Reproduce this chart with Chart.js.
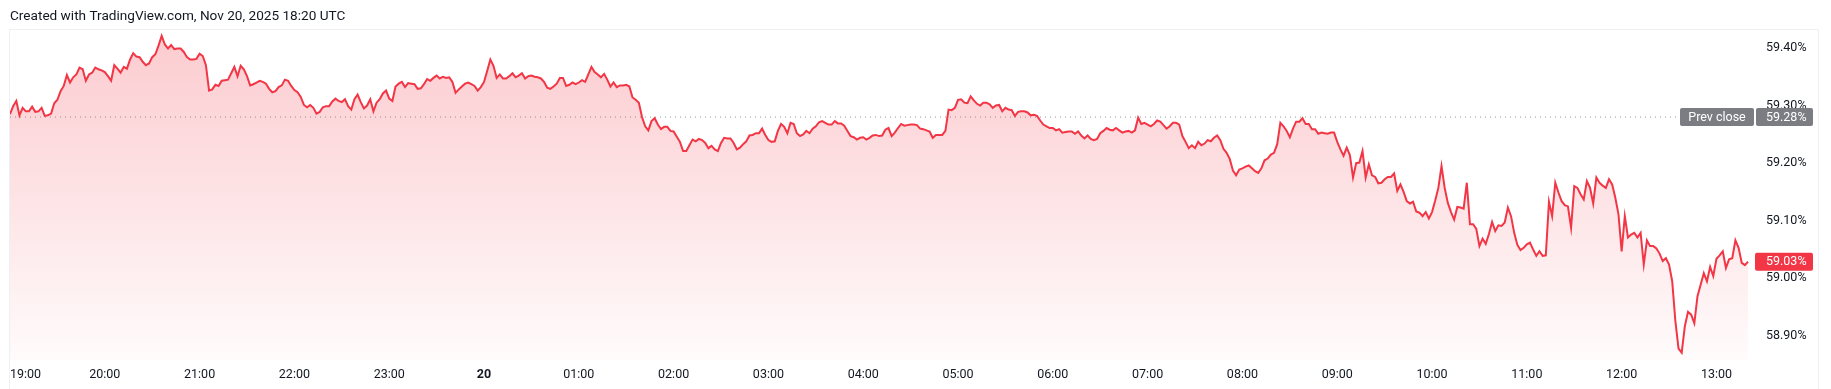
<!DOCTYPE html>
<html>
<head>
<meta charset="utf-8">
<script src="https://cdn.jsdelivr.net/npm/chart.js@4.4.0/dist/chart.umd.min.js"></script>
<style>
html,body{margin:0;padding:0;background:#ffffff;overflow:hidden;}
canvas{display:block;}
</style>
</head>
<body>
<canvas id="c" width="1831" height="389"></canvas>
<script>
// ---- data ----
const titleText = 'Created with TradingView.com, Nov 20, 2025 18:20 UTC';
const startTimeLabel = '19:00';   // first sample
const stepMinutes = 2;            // sampling interval of yieldValues
const yieldValues = [
59.285,59.299,59.308,59.283,59.296,59.290,59.290,59.298,59.289,59.290,
59.296,59.282,59.283,59.286,59.304,59.310,59.325,59.334,59.353,59.340,
59.349,59.354,59.366,59.363,59.343,59.354,59.357,59.366,59.363,59.361,
59.358,59.351,59.343,59.370,59.364,59.357,59.367,59.364,59.380,59.391,
59.385,59.384,59.376,59.370,59.373,59.384,59.389,59.404,59.421,59.406,
59.399,59.405,59.398,59.399,59.399,59.393,59.384,59.380,59.380,59.381,
59.390,59.386,59.370,59.326,59.328,59.336,59.334,59.343,59.344,59.345,
59.356,59.367,59.351,59.369,59.363,59.351,59.335,59.337,59.340,59.343,
59.341,59.338,59.329,59.323,59.325,59.332,59.335,59.345,59.343,59.334,
59.327,59.323,59.315,59.301,59.297,59.301,59.296,59.286,59.289,59.297,
59.299,59.299,59.307,59.312,59.308,59.306,59.311,59.299,59.293,59.311,
59.319,59.306,59.295,59.300,59.311,59.290,59.305,59.311,59.321,59.326,
59.312,59.308,59.333,59.338,59.341,59.332,59.339,59.338,59.337,59.329,
59.330,59.337,59.346,59.343,59.348,59.352,59.347,59.350,59.348,59.349,
59.341,59.322,59.328,59.333,59.338,59.340,59.337,59.334,59.326,59.332,
59.341,59.360,59.380,59.369,59.348,59.354,59.347,59.347,59.351,59.356,
59.349,59.352,59.356,59.347,59.351,59.352,59.350,59.349,59.347,59.341,
59.331,59.329,59.333,59.338,59.348,59.348,59.334,59.336,59.340,59.337,
59.340,59.344,59.341,59.354,59.367,59.358,59.354,59.349,59.355,59.345,
59.333,59.340,59.332,59.335,59.335,59.336,59.333,59.314,59.310,59.305,
59.280,59.264,59.257,59.273,59.278,59.267,59.259,59.263,59.263,59.256,
59.255,59.246,59.237,59.221,59.221,59.231,59.241,59.238,59.242,59.240,
59.235,59.226,59.230,59.224,59.221,59.235,59.244,59.243,59.243,59.235,
59.224,59.227,59.233,59.238,59.248,59.249,59.252,59.252,59.260,59.249,
59.240,59.237,59.238,59.256,59.268,59.263,59.252,59.270,59.268,59.252,
59.247,59.250,59.256,59.252,59.260,59.264,59.271,59.273,59.270,59.267,
59.267,59.273,59.269,59.269,59.265,59.256,59.247,59.245,59.241,59.244,
59.245,59.241,59.244,59.248,59.249,59.247,59.248,59.258,59.261,59.247,
59.253,59.261,59.268,59.265,59.266,59.267,59.267,59.266,59.260,59.259,
59.257,59.255,59.244,59.249,59.249,59.249,59.256,59.293,59.292,59.296,
59.310,59.311,59.305,59.304,59.316,59.309,59.303,59.300,59.305,59.305,
59.302,59.296,59.300,59.301,59.290,59.296,59.293,59.292,59.282,59.289,
59.290,59.290,59.288,59.283,59.284,59.282,59.274,59.267,59.264,59.261,
59.261,59.257,59.259,59.253,59.254,59.255,59.255,59.251,59.255,59.248,
59.243,59.248,59.242,59.240,59.242,59.252,59.256,59.261,59.258,59.257,
59.261,59.257,59.253,59.255,59.256,59.253,59.257,59.279,59.268,59.270,
59.267,59.264,59.268,59.274,59.272,59.266,59.260,59.264,59.270,59.270,
59.267,59.247,59.237,59.226,59.231,59.226,59.237,59.231,59.234,59.240,
59.238,59.244,59.248,59.240,59.225,59.218,59.207,59.187,59.179,59.189,
59.191,59.194,59.196,59.191,59.186,59.183,59.191,59.205,59.208,59.215,
59.218,59.233,59.270,59.264,59.256,59.245,59.260,59.272,59.272,59.278,
59.268,59.268,59.259,59.259,59.251,59.253,59.252,59.251,59.253,59.253,
59.237,59.224,59.213,59.227,59.214,59.175,59.200,59.201,59.221,59.175,
59.198,59.179,59.176,59.165,59.166,59.172,59.176,59.176,59.182,59.152,
59.163,59.150,59.134,59.130,59.133,59.116,59.114,59.108,59.115,59.104,
59.115,59.135,59.157,59.195,59.157,59.131,59.115,59.102,59.124,59.123,
59.121,59.166,59.094,59.094,59.086,59.056,59.069,59.060,59.077,59.098,
59.082,59.092,59.091,59.097,59.123,59.108,59.079,59.058,59.049,59.053,
59.059,59.062,59.050,59.039,59.047,59.039,59.040,59.133,59.108,59.166,
59.149,59.134,59.127,59.125,59.088,59.160,59.157,59.146,59.137,59.169,
59.157,59.130,59.175,59.166,59.161,59.157,59.172,59.163,59.140,59.111,
59.047,59.108,59.071,59.076,59.079,59.071,59.079,59.024,59.066,59.056,
59.056,59.052,59.043,59.030,59.035,59.024,58.995,58.926,58.878,58.871,
58.917,58.942,58.937,58.922,58.969,58.989,59.009,58.995,59.020,59.004,
59.034,59.040,59.047,59.018,59.033,59.035,59.066,59.053,59.027,59.023,
59.029
];
const prevClose = 59.28;
const hourTickMinutes = [0,60,120,180,240,300,360,420,480,540,600,660,720,780,840,900,960,1020,1080];
const hourTickLabels = ['19:00','20:00','21:00','22:00','23:00','20','01:00','02:00','03:00','04:00','05:00','06:00','07:00','08:00','09:00','10:00','11:00','12:00','13:00'];
const boldTickLabels = ['20'];
const yTickValues = [58.9, 59.0, 59.1, 59.2, 59.3, 59.4];
const xRangeMinutes = [0, 1104.4];
const yRange = [58.8583, 59.43125];

// ---- styles ----
const LINE_COLOR = '#F23645';
const TEXT_COLOR = '#131722';
const FONT_FAMILY = 'Roboto, "Noto Sans", Arial, sans-serif';

const seriesPoints = yieldValues.map((v, i) => ({ x: i * stepMinutes, y: v }));
const prevClosePoints = [{ x: xRangeMinutes[0], y: prevClose }, { x: xRangeMinutes[1], y: prevClose }];

function roundBox(ctx, x, y, w, h, r) {
  ctx.beginPath();
  if (ctx.roundRect) ctx.roundRect(x, y, w, h, r); else ctx.rect(x, y, w, h);
  ctx.fill();
}

const decorPlugin = {
  id: 'decor',
  beforeDraw(chart) {
    const ctx = chart.ctx;
    const a = chart.chartArea;
    ctx.save();
    ctx.fillStyle = '#ffffff';
    ctx.fillRect(0, 0, chart.width, chart.height);
    ctx.strokeStyle = '#eef0f4';
    ctx.lineWidth = 1;
    ctx.beginPath();
    ctx.moveTo(a.left - 0.5, chart.height);
    ctx.lineTo(a.left - 0.5, a.top - 0.5);
    ctx.lineTo(chart.width - 12.5, a.top - 0.5);
    ctx.lineTo(chart.width - 12.5, chart.height);
    ctx.stroke();
    ctx.restore();
  },
  afterDraw(chart) {
    const ctx = chart.ctx;
    const a = chart.chartArea;
    const ys = chart.scales.y;
    ctx.save();
    ctx.font = '12.5px ' + FONT_FAMILY;
    ctx.textBaseline = 'middle';
    // prev close labels
    const py = ys.getPixelForValue(prevClose);
    ctx.fillStyle = '#7b7d83';
    roundBox(ctx, a.right - 75, py - 9, 74, 18, 2);
    roundBox(ctx, a.right + 1, py - 9, 57, 18, 2);
    ctx.fillStyle = '#ffffff';
    ctx.textAlign = 'center';
    ctx.fillText('Prev close', a.right - 38, py + 0.5);
    ctx.textAlign = 'left';
    ctx.fillText(prevClose.toFixed(2) + '%', a.right + 11, py + 0.5);
    // last value label
    const last = yieldValues[yieldValues.length - 1];
    const ly = ys.getPixelForValue(last);
    ctx.fillStyle = LINE_COLOR;
    roundBox(ctx, a.right, ly - 9, 58, 18, 2);
    ctx.fillStyle = '#ffffff';
    ctx.fillText(last.toFixed(2) + '%', a.right + 11, ly + 0.5);
    ctx.restore();
  }
};

new Chart(document.getElementById('c'), {
  type: 'line',
  data: {
    datasets: [
      {
        label: 'Yield',
        data: seriesPoints,
        borderColor: LINE_COLOR,
        borderWidth: 2,
        pointRadius: 0,
        tension: 0,
        fill: 'start',
        order: 0,
        backgroundColor: (context) => {
          const chart = context.chart;
          const a = chart.chartArea;
          if (!a) return 'rgba(242,54,69,0.15)';
          const g = chart.ctx.createLinearGradient(0, a.top, 0, a.bottom);
          g.addColorStop(0, 'rgba(242,54,69,0.26)');
          g.addColorStop(1, 'rgba(242,54,69,0.02)');
          return g;
        }
      },
      {
        label: 'Prev close',
        data: prevClosePoints,
        borderColor: '#9598a1',
        borderWidth: 1,
        borderDash: [1, 4],
        pointRadius: 0,
        fill: false,
        order: 1
      }
    ]
  },
  options: {
    responsive: false,
    devicePixelRatio: 1,
    animation: false,
    events: [],
    layout: { padding: { left: 10, right: 0, top: 0, bottom: 0 } },
    plugins: {
      legend: { display: false },
      tooltip: { enabled: false },
      title: {
        display: true,
        text: titleText,
        align: 'start',
        color: TEXT_COLOR,
        font: { family: FONT_FAMILY, size: 13.6, weight: 'normal', lineHeight: 1.15 },
        padding: { top: 8.5, bottom: 5.8 }
      }
    },
    scales: {
      x: {
        type: 'linear',
        min: xRangeMinutes[0],
        max: xRangeMinutes[1],
        grid: { display: false, drawTicks: false },
        border: { display: false },
        afterBuildTicks: (scale) => {
          scale.ticks = hourTickMinutes.map(v => ({ value: v })).concat([{ value: xRangeMinutes[1] }]);
        },
        afterFit: (scale) => { scale.height = 29; },
        ticks: {
          autoSkip: false,
          maxRotation: 0,
          align: 'inner',
          padding: 7,
          color: TEXT_COLOR,
          font: (ctx) => ({
            family: FONT_FAMILY,
            size: 12.5,
            weight: (ctx.tick && boldTickLabels.includes(ctx.tick.label)) ? 'bold' : 'normal'
          }),
          callback: (value, index) => index < hourTickLabels.length ? hourTickLabels[index] : ''
        }
      },
      y: {
        type: 'linear',
        position: 'right',
        min: yRange[0],
        max: yRange[1],
        grid: { display: false, drawTicks: false },
        border: { display: false },
        afterBuildTicks: (scale) => {
          scale.ticks = yTickValues.map(v => ({ value: v }));
        },
        afterFit: (scale) => { scale.width = 76; },
        ticks: {
          padding: 11,
          color: TEXT_COLOR,
          font: { family: FONT_FAMILY, size: 12.5 },
          callback: (value) => Number(value).toFixed(2) + '%'
        }
      }
    }
  },
  plugins: [decorPlugin]
});
</script>
</body>
</html>
